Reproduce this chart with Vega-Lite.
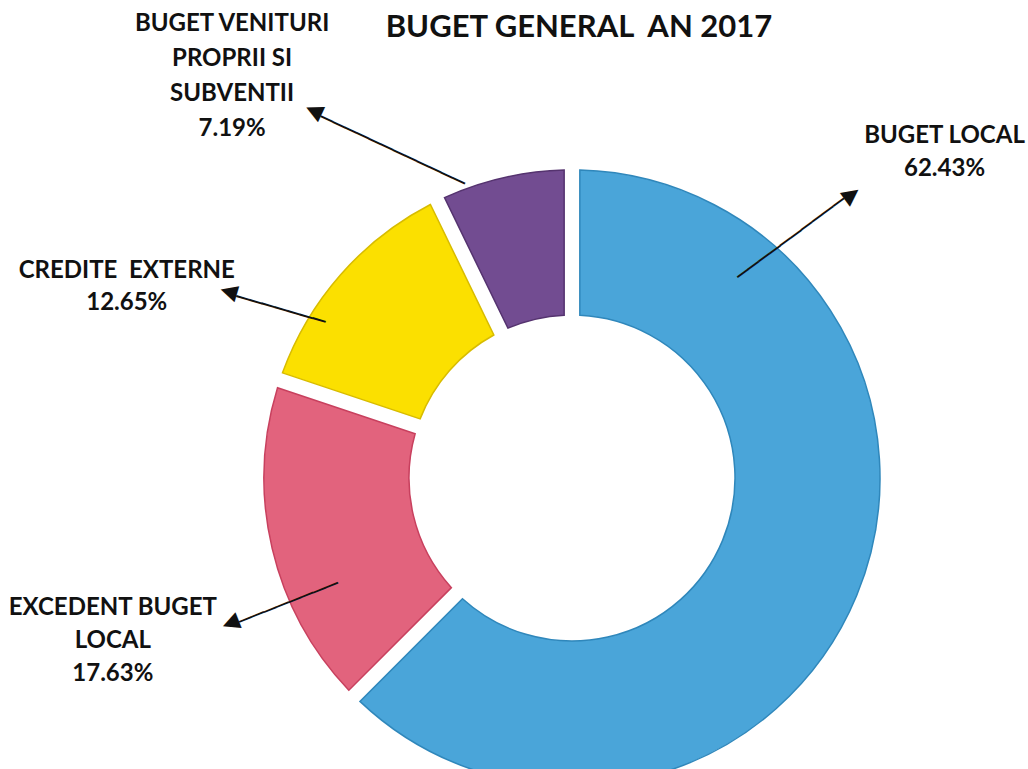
{
  "$schema": "https://vega.github.io/schema/vega-lite/v6.json",
  "autosize": "none",
  "width": 912,
  "height": 582,
  "padding": {"left": 116, "top": 187, "right": 0, "bottom": 0},
  "background": "white",
  "config": {"view": {"stroke": null}},
  "data": {
    "values": [
      {"cat": "BUGET LOCAL", "label": "BUGET LOCAL", "pct": 62.43, "ord": 1},
      {"cat": "EXCEDENT BUGET LOCAL", "label": "EXCEDENT BUGET\nLOCAL", "pct": 17.63, "ord": 2},
      {"cat": "CREDITE EXTERNE", "label": "CREDITE \u00a0EXTERNE", "pct": 12.65, "ord": 3},
      {"cat": "BUGET VENITURI PROPRII SI SUBVENTII", "label": "BUGET VENITURI\nPROPRII SI\nSUBVENTII", "pct": 7.19, "ord": 4}
    ]
  },
  "layer": [
    {
      "mark": {"type": "arc", "outerRadius": 308, "innerRadius": 163, "padAngle": 0.045, "strokeWidth": 1.5},
      "encoding": {
        "theta": {"field": "pct", "type": "quantitative", "stack": true},
        "order": {"field": "ord", "type": "quantitative"},
        "color": {"field": "cat", "type": "nominal", "legend": null,
          "scale": {"domain": ["BUGET LOCAL", "EXCEDENT BUGET LOCAL", "CREDITE EXTERNE", "BUGET VENITURI PROPRII SI SUBVENTII"],
                    "range": ["#4aa5d9", "#e2637d", "#fbe000", "#724c91"]}},
        "stroke": {"field": "cat", "type": "nominal", "legend": null,
          "scale": {"domain": ["BUGET LOCAL", "EXCEDENT BUGET LOCAL", "CREDITE EXTERNE", "BUGET VENITURI PROPRII SI SUBVENTII"],
                    "range": ["#2f87bb", "#c8405e", "#d8bc00", "#55336f"]}}
      }
    },
    {
      "transform": [{"filter": "datum.ord == 1"}],
      "mark": {"type": "text", "text": "BUGET GENERAL \u00a0AN 2017", "theta": 0.0158, "radius": 441, "font": "Lato", "fontSize": 31, "fontWeight": "bold", "align": "center", "baseline": "alphabetic", "color": "#111111"},
      "encoding": {}
    },
    {
      "transform": [{"filter": "datum.ord == 1"}, {"calculate": "datum.label + '\\n' + format(datum.pct, '.2f') + '%'", "as": "txt"}],
      "mark": {"type": "text", "theta": 0.852, "radius": 495, "dy": -16, "font": "Lato", "fontSize": 24, "fontWeight": "bold", "lineHeight": 33, "lineBreak": "\n", "align": "center", "baseline": "middle", "color": "#111111"},
      "encoding": {"text": {"field": "txt", "type": "nominal"}}
    },
    {
      "transform": [{"filter": "datum.ord == 2"}, {"calculate": "datum.label + '\\n' + format(datum.pct, '.2f') + '%'", "as": "txt"}],
      "mark": {"type": "text", "theta": -1.9106, "radius": 487, "dy": -32, "font": "Lato", "fontSize": 24, "fontWeight": "bold", "lineHeight": 33, "lineBreak": "\n", "align": "center", "baseline": "middle", "color": "#111111"},
      "encoding": {"text": {"field": "txt", "type": "nominal"}}
    },
    {
      "transform": [{"filter": "datum.ord == 3"}, {"calculate": "datum.label + '\\n' + format(datum.pct, '.2f') + '%'", "as": "txt"}],
      "mark": {"type": "text", "theta": -1.163, "radius": 485, "dy": -15, "font": "Lato", "fontSize": 24, "fontWeight": "bold", "lineHeight": 32, "lineBreak": "\n", "align": "center", "baseline": "middle", "color": "#111111"},
      "encoding": {"text": {"field": "txt", "type": "nominal"}}
    },
    {
      "transform": [{"filter": "datum.ord == 4"}, {"calculate": "datum.label + '\\n' + format(datum.pct, '.2f') + '%'", "as": "txt"}],
      "mark": {"type": "text", "theta": -0.701, "radius": 527, "dy": -51, "font": "Lato", "fontSize": 24, "fontWeight": "bold", "lineHeight": 35, "lineBreak": "\n", "align": "center", "baseline": "middle", "color": "#111111"},
      "encoding": {"text": {"field": "txt", "type": "nominal"}}
    },
    {
      "transform": [{"filter": "datum.ord == 1"}],
      "mark": {"type": "text", "text": "──────────▶", "theta": 0.745, "radius": 333, "angle": -36.6, "font": "DejaVu Sans", "fontSize": 22, "align": "center", "baseline": "middle", "color": "#111111"},
      "encoding": {}
    },
    {
      "transform": [{"filter": "datum.ord == 2"}],
      "mark": {"type": "text", "text": "────────▶", "theta": -1.9815, "radius": 318, "angle": 158.4, "font": "DejaVu Sans", "fontSize": 22, "align": "center", "baseline": "middle", "color": "#111111"},
      "encoding": {}
    },
    {
      "transform": [{"filter": "datum.ord == 3"}],
      "mark": {"type": "text", "text": "───────▶", "theta": -1.049, "radius": 345, "angle": 196.2, "font": "DejaVu Sans", "fontSize": 22, "align": "center", "baseline": "middle", "color": "#111111"},
      "encoding": {}
    },
    {
      "transform": [{"filter": "datum.ord == 4"}],
      "mark": {"type": "text", "text": "────────────▶", "theta": -0.512, "radius": 381, "angle": 205.1, "font": "DejaVu Sans", "fontSize": 22, "align": "center", "baseline": "middle", "color": "#111111"},
      "encoding": {}
    }
  ]
}
